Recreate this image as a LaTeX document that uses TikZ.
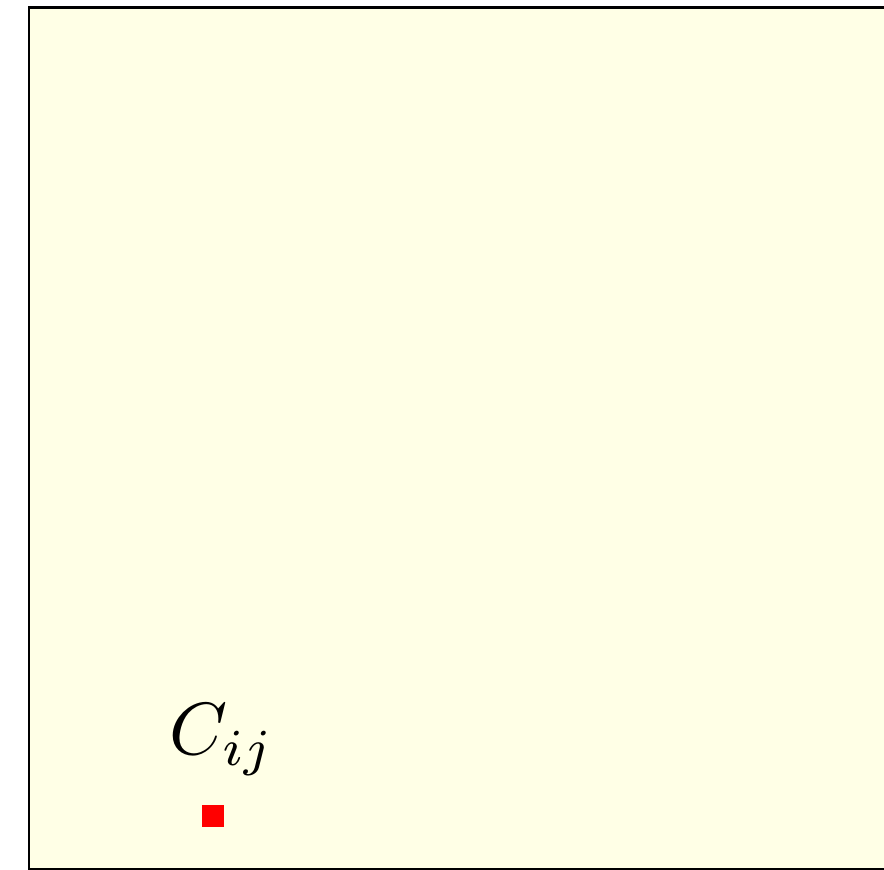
\documentclass[tikz,border=0pt]{standalone}
\definecolor{paleyellow}{RGB}{255,255,230}
\tikzset{
  frame/.style={draw=black, line width=2.6pt, fill=paleyellow},
  cellmark/.style={fill=red, draw=none, minimum size=22pt, inner sep=0pt},
  celllabel/.style={inner sep=0pt, scale=7.4}
}
\begin{document}
\begin{tikzpicture}[x=1pt,y=1pt]
  \useasboundingbox (0,0) rectangle (884,870);
  \path[frame] (29,1) rectangle (930,862.5);
  \node[cellmark] (cell) at (213,54) {};
  \node[celllabel] (lbl) at (222,130) {$C_{ij}$};
\end{tikzpicture}
\end{document}
